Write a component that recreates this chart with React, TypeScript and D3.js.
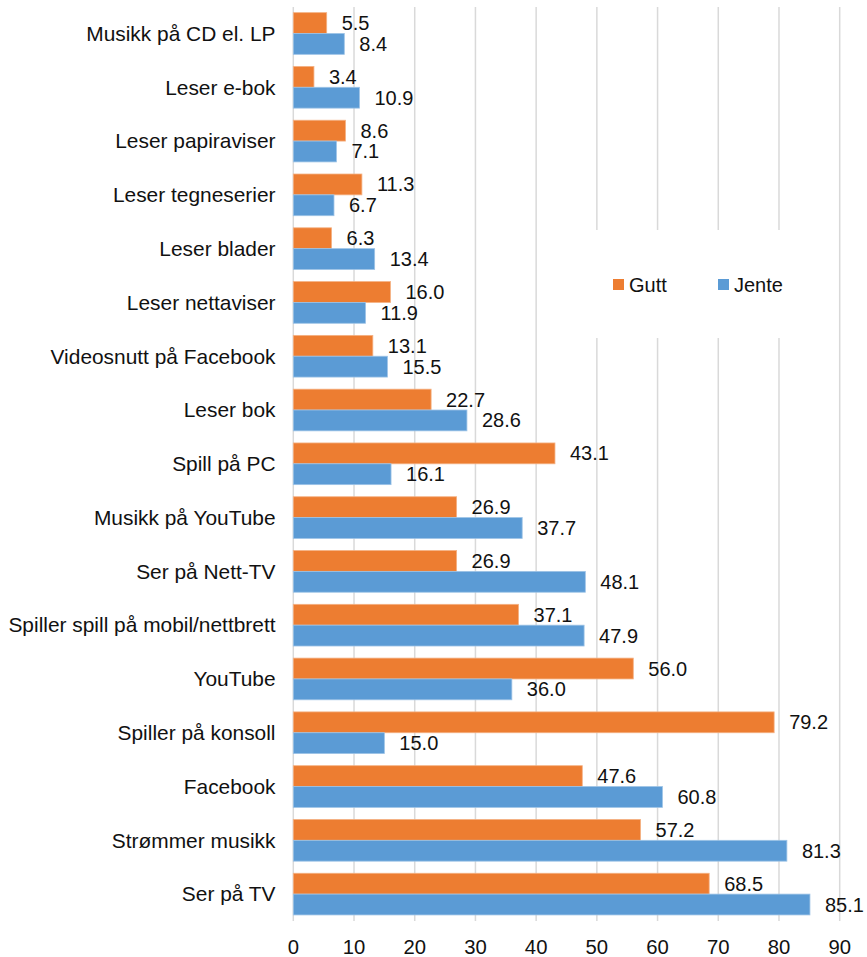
import React from 'react';
import * as d3 from 'd3';

// categories, top to bottom
const categories = [
  'Musikk på CD el. LP',
  'Leser e-bok',
  'Leser papiraviser',
  'Leser tegneserier',
  'Leser blader',
  'Leser nettaviser',
  'Videosnutt på Facebook',
  'Leser bok',
  'Spill på PC',
  'Musikk på YouTube',
  'Ser på Nett-TV',
  'Spiller spill på mobil/nettbrett',
  'YouTube',
  'Spiller på konsoll',
  'Facebook',
  'Strømmer musikk',
  'Ser på TV',
];
const gutt = [5.5, 3.4, 8.6, 11.3, 6.3, 16.0, 13.1, 22.7, 43.1, 26.9, 26.9, 37.1, 56.0, 79.2, 47.6, 57.2, 68.5];
const jente = [8.4, 10.9, 7.1, 6.7, 13.4, 11.9, 15.5, 28.6, 16.1, 37.7, 48.1, 47.9, 36.0, 15.0, 60.8, 81.3, 85.1];
const seriesNames = ['Gutt', 'Jente'];
const xTicks = [0, 10, 20, 30, 40, 50, 60, 70, 80, 90];

const colors = ['#ED7D31', '#5B9BD5'];
const font = 'Liberation Sans, Arial, sans-serif';

const App: React.FC = () => {
  const width = 867;
  const height = 957;

  const x = d3.scaleLinear().domain([0, 90]).range([293.3, 839.7]);
  const y = d3.scaleBand<string>()
    .domain(categories)
    .range([6.6, 921])
    .paddingInner(0.225)
    .paddingOuter(0.1125);
  const sub = d3.scaleBand<string>().domain(seriesNames).range([0, y.bandwidth()]);

  const series = [gutt, jente];

  return (
    <svg width={width} height={height} style={{ position: 'absolute', left: 0, top: 0, background: '#fff' }}
      fontFamily={font}>
      {/* gridlines */}
      {xTicks.map(t => (
        <line key={'g' + t} x1={x(t)} x2={x(t)} y1={7} y2={921} stroke="#d9d9d9" strokeWidth={1.5} />
      ))}
      {/* legend background */}
      <rect x={590} y={230} width={240} height={108} fill="#fff" />
      {/* bars */}
      {categories.map((c, i) => (
        <g key={c}>
          {series.map((s, k) => (
            <rect key={k}
              x={x(0)}
              y={(y(c) || 0) + (sub(seriesNames[k]) || 0)}
              width={x(s[i]) - x(0)}
              height={sub.bandwidth()}
              fill={colors[k]}
              stroke={k === 0 ? '#f4b183' : '#9dc3e6'}
              strokeWidth={0.8}
            />
          ))}
          {series.map((s, k) => (
            <text key={'t' + k}
              x={x(s[i]) + 15}
              y={(y(c) || 0) + (sub(seriesNames[k]) || 0) + sub.bandwidth() / 2}
              dy="0.35em"
              fontSize={20}
              fill="#111">
              {s[i].toFixed(1)}
            </text>
          ))}
          <text x={275.5} y={(y(c) || 0) + y.bandwidth() / 2} dy="0.35em" textAnchor="end" fontSize={20.9} fill="#111">
            {c}
          </text>
        </g>
      ))}
      {/* x tick labels */}
      {xTicks.map(t => (
        <text key={'x' + t} x={x(t)} y={954} textAnchor="middle" fontSize={20.3} fill="#111">{t}</text>
      ))}
      {/* legend */}
      {seriesNames.map((n, k) => (
        <g key={n} transform={`translate(${613 + k * 105},279)`}>
          <rect width={11} height={11} fill={colors[k]} />
          <text x={16} y={5.5} dy="0.35em" fontSize={20} fill="#111">{n}</text>
        </g>
      ))}
    </svg>
  );
};

export default App;
